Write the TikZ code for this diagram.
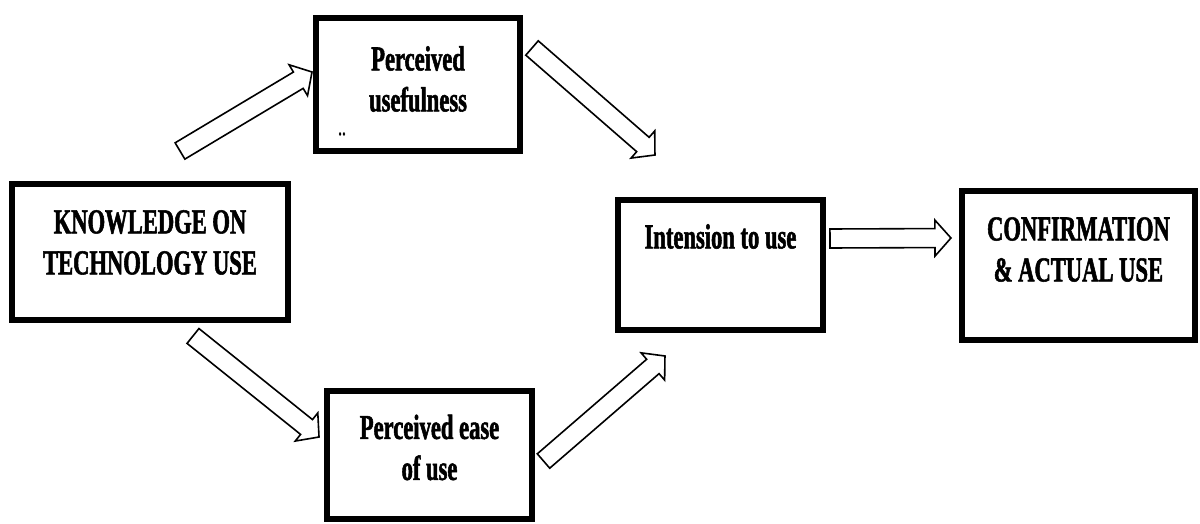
\documentclass[tikz,border=0pt]{standalone}
\usepackage{fontspec}
\newfontfamily\figfont[FakeStretch=0.645,FakeBold=1.5]{Liberation Serif}
\usetikzlibrary{calc}

% hollow block arrow from #1 to #2
\newcommand{\blockarrow}[2]{%
  \coordinate (ba-s) at (#1);
  \coordinate (ba-e) at (#2);
  \coordinate (ba-h) at ($(ba-e)!8pt!(ba-s)$);
  \draw[hollow]
    ($(ba-s)!4.75pt!90:(ba-e)$) -- ($(ba-h)!4.75pt!90:(ba-e)$)
    -- ($(ba-h)!9pt!90:(ba-e)$) -- (ba-e)
    -- ($(ba-h)!9pt!-90:(ba-e)$) -- ($(ba-h)!4.75pt!-90:(ba-e)$)
    -- ($(ba-s)!4.75pt!-90:(ba-e)$) -- cycle;
}

\begin{document}
\begin{tikzpicture}[
  box/.style={draw, line width=3pt, inner sep=0pt, outer sep=0pt},
  txt/.style={align=center, inner sep=0pt, font=\figfont\bfseries\fontsize{17.5}{20.5}\selectfont},
  hollow/.style={draw, fill=white, line width=0.8pt, line join=miter}
]
\useasboundingbox (0,0) rectangle (21.088,-9.208);

% boxes
\node[box, minimum width=4.850cm, minimum height=2.390cm] (kn) at (2.636,-4.428) {};
\node[box, minimum width=3.585cm, minimum height=2.337cm] (pu) at (7.346,-1.485) {};
\node[box, minimum width=3.602cm, minimum height=2.249cm] (pe) at (7.548,-7.996) {};
\node[box, minimum width=3.602cm, minimum height=2.284cm] (it) at (12.661,-4.657) {};
\node[box, minimum width=4.095cm, minimum height=2.618cm] (cf) at (18.952,-4.666) {};

% texts
\node[txt] (kn-text) at ([yshift=4.75pt]kn.center) {KNOWLEDGE ON\\TECHNOLOGY USE};
\node[txt] (pu-text) at ([yshift=2.75pt]pu.center) {Perceived\\usefulness};
\node[font=\figfont\fontsize{12}{12}\selectfont] (pu-dots) at ([shift={(-38pt,-24.75pt)}]pu.center) {..};
\node[txt] (pe-text) at ([yshift=3.75pt]pe.center) {Perceived ease\\of use};
\node[txt] (it-text) at ([yshift=14.25pt]it.center) {Intension to use};
\node[txt] (cf-text) at ([yshift=8pt]cf.center) {CONFIRMATION\\\& ACTUAL USE};

% arrows
\blockarrow{[shift={(15pt,50.5pt)}]kn.center}{[shift={(-53pt,6.25pt)}]pu.center}
\blockarrow{[shift={(57pt,18.25pt)}]pu.center}{[shift={(-32.75pt,55pt)}]it.center}
\blockarrow{[shift={(21.5pt,-42pt)}]kn.center}{[shift={(-55.25pt,9pt)}]pe.center}
\blockarrow{[shift={(57pt,-3pt)}]pe.center}{[shift={(-27.75pt,-45.5pt)}]it.center}
\blockarrow{[shift={(54.75pt,13.25pt)}]it.center}{[shift={(-63.75pt,13.75pt)}]cf.center}

\end{tikzpicture}
\end{document}
